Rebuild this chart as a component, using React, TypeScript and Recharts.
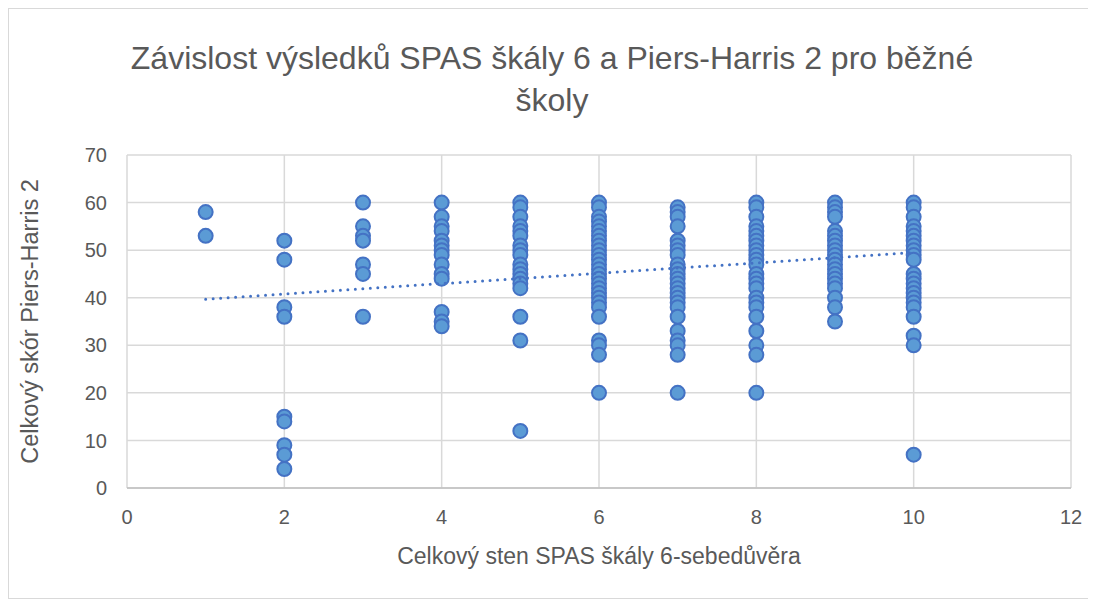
import React from 'react';
import { ScatterChart, Scatter, XAxis, YAxis, CartesianGrid } from 'recharts';

const stenLevels = [1, 2, 3, 4, 5, 6, 7, 8, 9, 10];

const scoresAt1 = [58, 53];
const scoresAt2 = [52, 48, 38, 36, 15, 14, 9, 7, 4];
const scoresAt3 = [60, 55, 53, 52, 47, 45, 36];
const scoresAt4 = [60, 57, 55, 54, 52, 51, 50, 49, 47, 45, 44, 37, 35, 34];
const scoresAt5 = [60, 59, 57, 55, 54, 53, 51, 50, 49, 47, 46, 45, 44, 43, 42, 36, 31, 12];
const scoresAt6 = [60, 59, 57, 56, 55, 54, 53, 52, 51, 50, 49, 48, 47, 46, 45, 44, 43, 42, 41, 40, 39, 38, 36, 31, 30, 28, 20];
const scoresAt7 = [59, 58, 57, 55, 52, 51, 50, 49, 47, 46, 45, 44, 43, 42, 41, 40, 39, 38, 36, 33, 31, 30, 28, 20];
const scoresAt8 = [60, 59, 57, 55, 54, 53, 52, 51, 50, 49, 48, 47, 45, 44, 43, 42, 40, 39, 38, 36, 33, 30, 28, 20];
const scoresAt9 = [60, 59, 58, 57, 54, 53, 52, 51, 50, 49, 48, 47, 46, 45, 44, 43, 42, 40, 38, 35];
const scoresAt10 = [60, 59, 57, 55, 54, 53, 52, 51, 50, 49, 48, 45, 44, 43, 42, 41, 40, 39, 38, 36, 32, 30, 7];

const scoresBySten = [scoresAt1, scoresAt2, scoresAt3, scoresAt4, scoresAt5, scoresAt6, scoresAt7, scoresAt8, scoresAt9, scoresAt10];

// linear trendline, endpoints
const trendX = [1, 10];
const trendY = [39.7, 49.5];

const xTicks = [0, 2, 4, 6, 8, 10, 12];
const yTicks = [0, 10, 20, 30, 40, 50, 60, 70];

const points = stenLevels.flatMap((s, i) => scoresBySten[i].map(v => ({ x: s, y: v })));
const trendData = trendX.map((x, i) => ({ x, y: trendY[i] }));

const FONT = '"Liberation Sans", Arial, sans-serif';
const TEXT = '#595959';

const Dot = (props: any) => (
  <circle cx={props.cx} cy={props.cy} r={7} fill="#5b9bd5" stroke="#4472c4" strokeWidth={2} />
);

export default function App() {
  return (
    <div
      style={{
        position: 'relative',
        width: 1086,
        height: 589,
        border: '1px solid #d9d9d9',
        background: '#fff',
        fontFamily: FONT,
      }}
    >
      <div
        style={{
          position: 'absolute',
          top: 28,
          left: 0,
          width: '100%',
          textAlign: 'center',
          fontSize: 32,
          lineHeight: '42px',
          color: TEXT,
          whiteSpace: 'nowrap',
          zIndex: 2,
        }}
      >
        Závislost výsledků SPAS škály 6 a Piers-Harris 2 pro běžné
        <br />
        školy
      </div>
      <div style={{ position: 'absolute', top: 0, left: 0 }}>
        <ScatterChart width={1086} height={589} margin={{ top: 146, right: 24, bottom: 30, left: 0 }}>
          <CartesianGrid stroke="#d9d9d9" strokeWidth={1.5} />
          <XAxis
            type="number"
            dataKey="x"
            domain={[0, 12]}
            ticks={xTicks}
            height={80}
            tickLine={false}
            tickSize={0}
            tickMargin={22}
            axisLine={{ stroke: '#bfbfbf', strokeWidth: 1.5 }}
            tick={{ fill: TEXT, fontSize: 20, fontFamily: FONT }}
            label={{
              value: 'Celkový sten SPAS škály 6-sebedůvěra',
              position: 'insideBottom',
              offset: 4,
              fill: TEXT,
              fontSize: 23,
              fontFamily: FONT,
            }}
          />
          <YAxis
            type="number"
            dataKey="y"
            domain={[0, 70]}
            ticks={yTicks}
            width={118}
            axisLine={false}
            tickLine={false}
            tickSize={0}
            tickMargin={20}
            tick={{ fill: TEXT, fontSize: 20, fontFamily: FONT }}
            label={{
              value: 'Celkový skór Piers-Harris 2',
              angle: -90,
              position: 'insideLeft',
              offset: 21,
              fill: TEXT,
              fontSize: 23.5,
              fontFamily: FONT,
              style: { textAnchor: 'middle' },
            }}
          />
          <Scatter data={points} shape={<Dot />} isAnimationActive={false} />
          <Scatter
            data={trendData}
            line={{ stroke: '#4472c4', strokeWidth: 3, strokeDasharray: '0 7.5', strokeLinecap: 'round' }}
            shape={() => <g />}
            isAnimationActive={false}
          />
        </ScatterChart>
      </div>
    </div>
  );
}
